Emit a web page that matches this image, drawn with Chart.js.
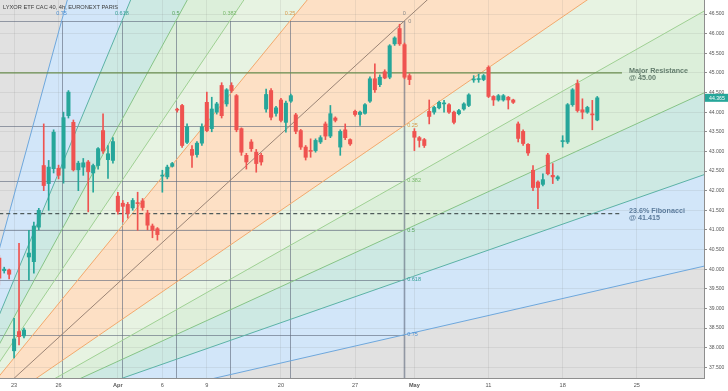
<!DOCTYPE html>
<html><head><meta charset="utf-8">
<script src="https://cdn.jsdelivr.net/npm/chart.js@4.4.0/dist/chart.umd.min.js"></script>
<style>html,body{margin:0;padding:0;background:#fff;overflow:hidden}#wrap{width:728px;height:391px}</style>
</head><body><div id="wrap"><canvas id="c" width="728" height="391"></canvas></div>
<script>
// ---------- data ----------
const firstBar = -3; // bar index of first candle (Mar 23 first bar = 0)
const opens  = [40.28,39.96,39.98,37.92,38.41,38.30,40.31,40.19,41.07,42.64,42.18,42.56,42.57,42.57,43.91,43.74,42.53,42.60,42.73,42.45,42.64,43.53,42.79,42.77,41.86,41.68,41.65,41.56,41.69,41.74,41.43,41.10,41.03,42.37,42.35,42.62,44.07,44.17,43.23,43.05,42.92,43.21,44.25,43.58,44.00,44.68,44.21,44.68,44.42,43.58,42.90,43.24,42.98,42.90,44.08,44.55,43.97,44.31,43.74,44.28,43.93,43.53,43.11,43.02,43.02,43.24,43.70,43.39,43.85,43.11,43.55,43.30,44.02,43.94,43.97,44.28,44.85,44.70,45.03,44.89,45.74,46.13,45.72,44.93,43.51,43.35,43.30,44.02,44.00,44.11,44.21,44.19,44.00,43.96,44.08,44.17,44.82,44.83,44.83,45.14,44.40,44.31,44.31,44.38,44.31,43.70,43.51,43.18,42.52,42.22,42.16,42.91,42.39,42.30,43.25,43.24,44.19,44.73,44.06,44.00,43.94,43.80];
const highs  = [40.35,40.05,40.00,38.75,40.66,38.50,40.99,41.20,41.55,43.70,42.77,43.55,42.65,44.00,44.55,43.80,42.75,42.82,42.77,42.68,43.10,43.96,43.15,43.35,41.96,41.75,41.70,41.80,41.96,41.80,41.50,41.15,41.06,42.52,42.65,42.72,44.10,44.20,43.70,43.15,43.25,43.70,44.51,44.38,44.25,44.75,44.60,44.75,44.45,43.60,42.95,43.30,43.05,42.95,44.59,44.60,44.15,44.35,44.28,44.46,43.97,43.56,43.15,43.32,43.32,43.40,43.75,44.17,43.88,43.55,43.70,43.32,44.05,44.03,44.22,44.90,45.23,44.95,45.08,45.72,45.92,46.24,45.76,44.98,43.58,43.38,43.33,44.31,44.15,44.28,44.30,44.22,44.03,44.07,44.24,44.47,44.93,44.97,44.96,45.18,44.42,44.45,44.45,44.40,44.33,43.75,43.55,43.20,42.64,42.25,42.43,42.95,42.69,42.38,43.40,44.22,44.60,44.82,44.34,44.15,44.30,44.40];
const lows   = [39.60,39.90,39.75,37.74,38.07,38.25,39.72,39.90,41.00,42.00,41.50,42.45,42.30,42.19,43.85,42.50,42.00,42.39,41.46,41.96,42.55,42.95,42.31,42.70,41.40,41.20,41.30,41.50,40.99,41.50,41.00,40.80,40.74,41.96,42.30,42.60,44.00,43.10,43.20,42.59,42.85,43.15,43.50,43.50,43.95,43.85,44.15,44.50,43.50,42.90,42.55,43.00,42.47,42.65,44.00,43.80,43.90,43.75,43.49,44.25,43.45,43.05,42.78,42.85,42.98,43.20,43.30,43.35,43.75,42.90,43.30,43.15,43.90,43.66,43.95,44.25,44.50,44.65,44.85,44.85,45.70,45.70,44.85,44.70,43.02,43.11,43.10,43.70,43.95,44.08,44.00,43.97,43.70,43.93,44.05,44.14,44.76,44.76,44.80,44.37,44.17,44.28,44.28,44.08,44.22,43.24,43.15,42.90,42.00,41.54,42.12,42.40,42.18,42.26,43.11,43.20,44.15,44.00,43.83,43.97,43.55,43.78];
const closes = [39.77,40.00,39.87,38.22,38.28,38.45,40.41,41.10,41.50,42.13,42.60,43.49,42.39,43.86,44.51,42.53,42.70,42.71,42.48,42.64,43.07,43.01,42.94,43.25,41.47,41.60,41.42,41.75,41.67,41.57,41.12,40.99,40.88,42.38,42.60,42.69,44.05,43.15,43.63,42.90,43.21,43.63,43.53,44.08,44.21,43.91,44.57,44.55,43.55,42.98,42.73,43.07,42.69,42.73,44.45,43.87,44.11,43.79,44.23,44.42,43.51,43.11,42.85,43.00,43.28,43.35,43.39,43.96,43.79,43.51,43.35,43.19,43.94,44.00,44.19,44.85,44.57,44.89,44.87,45.69,45.89,45.74,44.89,44.83,43.36,43.28,43.15,43.89,44.12,44.25,44.22,44.00,43.74,44.04,44.21,44.44,44.84,44.84,44.93,44.40,44.31,44.42,44.42,44.31,44.25,43.33,43.20,42.96,42.08,42.08,42.28,42.43,42.35,42.35,43.27,44.19,44.57,44.04,44.00,44.12,43.93,44.365];
const tickBars   = [0, 9, 21, 30, 39, 54, 69, 81, 96, 111, 126];
const tickLabels = ['23','26','Apr','6','9','20','27','May','11','18','25'];
const yTickValues = [37.5,38,38.5,39,39.5,40,40.5,41,41.5,42,42.5,43,43.5,44,44.5,45,45.5,46,46.5];
const resistanceLevel = 45.00;
const fibLevel = 41.415;
const levelLineBars = [-3, 123];
const lastPrice = 44.365;
const fanOrigin = [-13.5, 35.663];
const fanCorner = [78.94, 46.322];
const fanLevels = [0.25, 0.382, 0.5, 0.618, 0.75];
const fanLevelLabels = ['0.25','0.382','0.5','0.618','0.75'];

// ---------- styles ----------
const UP = '#26a69a', DOWN = '#ef5350';
const FONT = 'Arial, "Liberation Sans", sans-serif';
const fill = {0.25:'#fde0c5', 0.382:'#e7f3e2', 0.5:'#dcefda', 0.618:'#cde9e3', 0.75:'#d2e6f9'};
const lineCol = {0:'#9c8474', 0.25:'#f3a96c', 0.382:'#9fd193', 0.5:'#86c486', 0.618:'#5bb2a6', 0.75:'#6ea7dc'};
const labelCol = {0:'#8a8a8a', 0.25:'#d79a4a', 0.382:'#79b96c', 0.5:'#58a65b', 0.618:'#35a096', 0.75:'#4a8fd4'};

const bars = opens.map((_, i) => firstBar + i);
const colors = opens.map((o, i) => closes[i] >= o ? UP : DOWN);

function fanGeom(chart) {
  const {x, y} = chart.scales;
  const P = (a, b) => [x.getPixelForValue(a), y.getPixelForValue(b)];
  const dx = fanCorner[0] - fanOrigin[0], dy = fanCorner[1] - fanOrigin[1];
  const O = P(fanOrigin[0], fanOrigin[1]);
  const C = P(fanCorner[0], fanCorner[1]);
  const timeRays = fanLevels.map(L => ({L, p: P(fanCorner[0] - L*dx, fanCorner[1])}));
  const priceRays = fanLevels.map(L => ({L, p: P(fanCorner[0], fanCorner[1] - L*dy)}));
  const rays = [...timeRays.slice().reverse(), {L:0, p:C}, ...priceRays];
  const far = p => [O[0] + (p[0]-O[0])*20, O[1] + (p[1]-O[1])*20];
  return {O, C, timeRays, priceRays, rays, far};
}

function noPad(s) { s.paddingTop = 0; s.paddingBottom = 0; s.paddingLeft = 0; s.paddingRight = 0; }

const fanPlugin = {
  id: 'fan',
  beforeDraw(chart) {
    const {ctx, chartArea: a} = chart;
    ctx.save();
    ctx.fillStyle = '#ffffff';
    ctx.fillRect(0, 0, chart.width, chart.height);
    ctx.beginPath(); ctx.rect(a.left, a.top, a.right - a.left, a.bottom - a.top); ctx.clip();
    ctx.fillStyle = '#e1e1e1';
    ctx.fillRect(a.left, a.top, a.right - a.left, a.bottom - a.top);
    const g = fanGeom(chart);
    for (let k = 0; k < g.rays.length - 1; k++) {
      const r1 = g.rays[k], r2 = g.rays[k+1];
      const lvl = Math.max(r1.L, r2.L);
      const f1 = g.far(r1.p), f2 = g.far(r2.p);
      ctx.fillStyle = fill[lvl];
      ctx.beginPath(); ctx.moveTo(g.O[0], g.O[1]); ctx.lineTo(f1[0], f1[1]); ctx.lineTo(f2[0], f2[1]); ctx.closePath(); ctx.fill();
    }
    ctx.restore();
  },
  beforeDatasetsDraw(chart) {
    const {ctx, chartArea: a} = chart;
    const g = fanGeom(chart);
    ctx.save();
    ctx.beginPath(); ctx.rect(a.left, a.top, a.right - a.left, a.bottom - a.top); ctx.clip();
    ctx.lineWidth = 1;
    ctx.strokeStyle = 'rgba(95,105,125,0.62)';
    const hs = [g.C[1], ...g.priceRays.map(r => r.p[1])];
    hs.forEach(yy => { ctx.beginPath(); ctx.moveTo(g.O[0], Math.round(yy)+0.5); ctx.lineTo(g.C[0], Math.round(yy)+0.5); ctx.stroke(); });
    const vs = [g.C[0], ...g.timeRays.map(r => r.p[0])];
    vs.forEach((xx, i) => { ctx.lineWidth = i === 0 ? 1.6 : 1; ctx.beginPath(); ctx.moveTo(Math.round(xx)+0.5, g.C[1]); ctx.lineTo(Math.round(xx)+0.5, g.O[1]); ctx.stroke(); });
    g.rays.forEach(r => {
      const f = g.far(r.p);
      ctx.strokeStyle = lineCol[r.L];
      ctx.lineWidth = 1;
      ctx.beginPath(); ctx.moveTo(g.O[0], g.O[1]); ctx.lineTo(f[0], f[1]); ctx.stroke();
    });
    ctx.restore();
    ctx.save();
    ctx.font = '5.5px ' + FONT;
    ctx.textBaseline = 'middle';
    ctx.textAlign = 'center';
    g.timeRays.forEach((r, i) => { ctx.fillStyle = labelCol[r.L]; ctx.fillText(fanLevelLabels[i], r.p[0], g.C[1] - 7.5); });
    ctx.fillStyle = labelCol[0]; ctx.fillText('0', g.C[0], g.C[1] - 7.5);
    ctx.textAlign = 'left';
    ctx.fillText('0', g.C[0] + 4, g.C[1]);
    g.priceRays.forEach((r, i) => { ctx.fillStyle = labelCol[r.L]; ctx.fillText(fanLevelLabels[i], g.C[0] + 3, r.p[1]); });
    ctx.restore();
  },
  afterDraw(chart) {
    const {ctx, scales: {x, y}, chartArea: a} = chart;
    ctx.save();
    ctx.fillStyle = '#3d3d3d';
    ctx.font = '5.7px ' + FONT;
    ctx.textBaseline = 'middle'; ctx.textAlign = 'left';
    ctx.fillText('LYXOR ETF CAC 40, 4h, EURONEXT PARIS', 3, 7);
    const tx = x.getPixelForValue(levelLineBars[1]) + 7;
    ctx.font = 'bold 7.2px ' + FONT;
    ctx.fillStyle = '#627c6c';
    const yr = y.getPixelForValue(resistanceLevel);
    ctx.fillText('Major Resistance', tx, yr - 2);
    ctx.fillText('@ 45.00', tx, yr + 4.8);
    ctx.fillStyle = '#5c7c9c';
    const yf = y.getPixelForValue(fibLevel);
    ctx.fillText('23.6% Fibonacci', tx, yf - 3);
    ctx.fillText('@ 41.415', tx, yf + 4);
    const yp = y.getPixelForValue(lastPrice);
    ctx.fillStyle = UP;
    ctx.fillRect(a.right + 1, yp - 4, chart.width - a.right - 1, 8);
    ctx.fillStyle = '#ffffff';
    ctx.font = '5.2px ' + FONT;
    ctx.fillText(lastPrice.toFixed(3), a.right + 5, yp + 0.3);
    ctx.restore();
  }
};

new Chart(document.getElementById('c'), {
  type: 'bar',
  data: {
    datasets: [
      { type: 'line', order: 5, data: levelLineBars.map(b => ({x: b, y: resistanceLevel})), borderColor: '#6a8d4f', borderWidth: 1.4, pointRadius: 0 },
      { type: 'line', order: 5, data: levelLineBars.map(b => ({x: b, y: fibLevel})), borderColor: '#4f5b5b', borderWidth: 1.1, borderDash: [4, 3], pointRadius: 0 },
      { order: 3, grouped: false, data: bars.map((b, i) => ({x: b, y: [lows[i], highs[i]]})), backgroundColor: colors, barThickness: 1, borderWidth: 0 },
      { order: 1, grouped: false, data: bars.map((b, i) => ({x: b, y: [opens[i], closes[i]]})), backgroundColor: colors, barThickness: 3.4, borderWidth: 0, minBarLength: 1 }
    ]
  },
  options: {
    responsive: false, animation: false, devicePixelRatio: 1,
    layout: { padding: 0 },
    plugins: { legend: { display: false }, tooltip: { enabled: false } },
    scales: {
      x: {
        type: 'linear', offset: false, min: -2.85, max: 139.6,
        afterBuildTicks: s => { s.ticks = tickBars.map(v => ({value: v})); },
        afterFit: s => { s.height = 13; noPad(s); },
        grid: { color: 'rgba(120,120,120,0.13)', drawTicks: false, offset: false },
        border: { display: true, color: '#8e8e8e', width: 1 },
        ticks: {
          padding: 4, color: '#555', maxRotation: 0, autoSkip: false,
          font: c => ({ family: FONT, size: 5.6, weight: (c.tick && (c.tick.label === 'Apr' || c.tick.label === 'May')) ? 'bold' : 'normal' }),
          callback: v => tickLabels[tickBars.indexOf(v)]
        }
      },
      y: {
        type: 'linear', position: 'right', min: 37.227, max: 46.857,
        afterBuildTicks: s => { s.ticks = yTickValues.map(v => ({value: v})); },
        afterFit: s => { s.width = 24; noPad(s); },
        grid: { color: 'rgba(120,120,120,0.13)', tickColor: '#8e8e8e', tickLength: 3 },
        border: { display: true, color: '#8e8e8e', width: 1 },
        ticks: { padding: 2, color: '#555', font: { family: FONT, size: 5 }, callback: v => v.toFixed(3) }
      }
    }
  },
  plugins: [fanPlugin]
});
</script></body></html>
